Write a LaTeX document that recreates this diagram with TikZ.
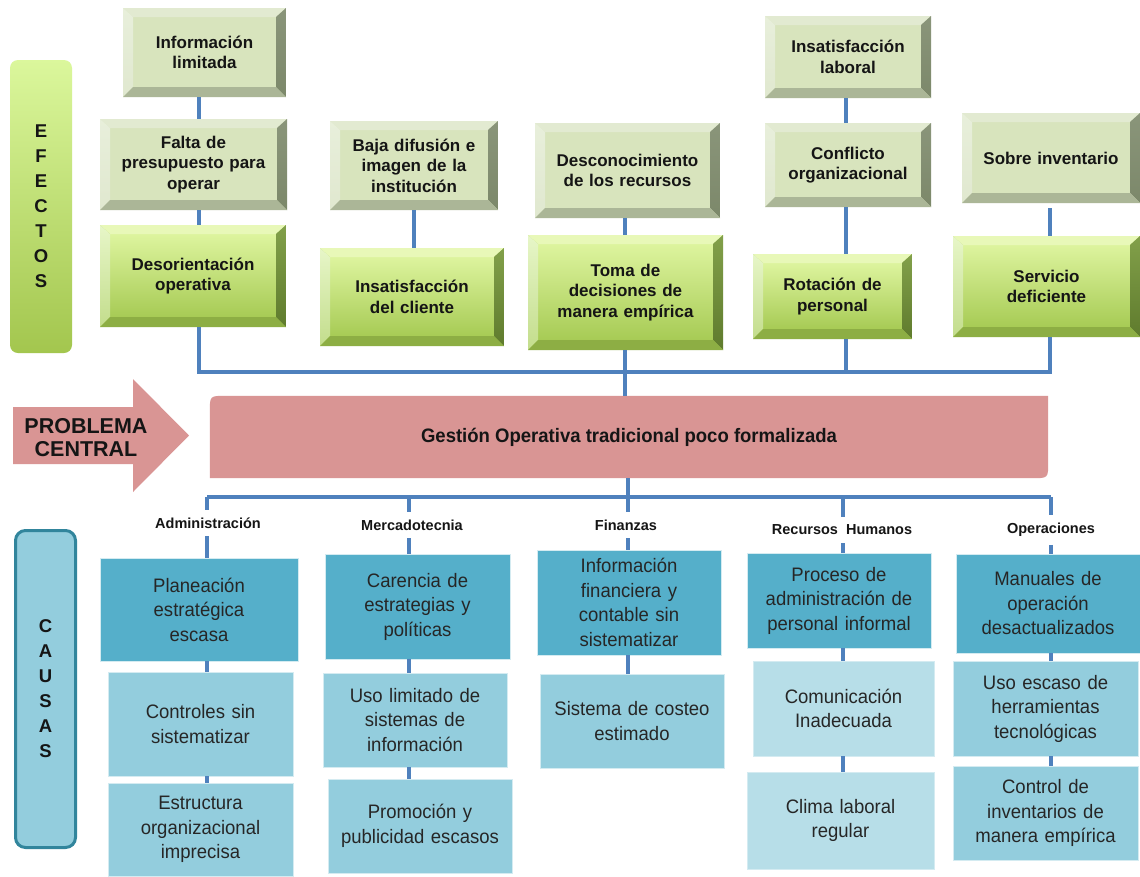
\documentclass[tikz,border=0pt]{standalone}
\usepackage{fontspec}
\setmainfont{Liberation Sans}
\newfontfamily\condfont[FakeStretch=0.95]{Liberation Sans}
\usetikzlibrary{backgrounds}

% palette
\definecolor{txt}{HTML}{151515}
\definecolor{ctxt}{HTML}{262626}
\definecolor{gface}{HTML}{D8E4BD}
\definecolor{gtop}{HTML}{E2EAD1}
\definecolor{gleftA}{HTML}{E8EFDB}
\definecolor{gleftB}{HTML}{E0E8CF}
\definecolor{grightA}{HTML}{8A957A}
\definecolor{grightB}{HTML}{7C886A}
\definecolor{gbot}{HTML}{ABB697}
\definecolor{lfaceA}{HTML}{DDF49E}
\definecolor{lfaceB}{HTML}{A7CB55}
\definecolor{ltop}{HTML}{E8F8B8}
\definecolor{lleftA}{HTML}{E7F6C8}
\definecolor{lleftB}{HTML}{C3DD8C}
\definecolor{lrightA}{HTML}{82A04A}
\definecolor{lrightB}{HTML}{5F7B2D}
\definecolor{lbot}{HTML}{8DAE44}
\definecolor{barA}{HTML}{DBF79C}
\definecolor{barB}{HTML}{A3C64E}
\definecolor{pinkc}{HTML}{D99594}
\definecolor{linec}{HTML}{4F81BD}
\definecolor{cDark}{HTML}{55AFCA}
\definecolor{cLight}{HTML}{93CDDD}
\definecolor{cPale}{HTML}{B7DEE8}
\definecolor{cBorder}{HTML}{31859C}

% bevelled face: face top/bottom, top strip, left strip top/bottom, right strip top/bottom, bottom strip
\newcommand\bevelfill[8]{%
  \path (path picture bounding box.north west) coordinate (bNW)
        (path picture bounding box.north east) coordinate (bNE)
        (path picture bounding box.south west) coordinate (bSW)
        (path picture bounding box.south east) coordinate (bSE);
  \path ([shift={(10pt,-9pt)}]bNW) coordinate (iNW)
        ([shift={(-10pt,-9pt)}]bNE) coordinate (iNE)
        ([shift={(10pt,10pt)}]bSW) coordinate (iSW)
        ([shift={(-10pt,10pt)}]bSE) coordinate (iSE);
  \shade[top color=#1,bottom color=#2] (iNW) rectangle (iSE);
  \fill[#3] (bNW) -- (bNE) -- (iNE) -- (iNW) -- cycle;
  \shade[top color=#4,bottom color=#5] (bNW) -- (iNW) -- (iSW) -- (bSW) -- cycle;
  \shade[top color=#6,bottom color=#7] (bNE) -- (bSE) -- (iSE) -- (iNE) -- cycle;
  \fill[#8] (bSW) -- (iSW) -- (iSE) -- (bSE) -- cycle;
}

% box placed by its corners: style, name, x1, y1, x2, y2, text
\newcommand\placebox[7]{%
  \pgfmathsetmacro\bxw{#5-#3}%
  \pgfmathsetmacro\bxh{#6-#4}%
  \pgfmathsetmacro\bxt{#5-#3-14}%
  \node[#1, minimum width=\bxw pt, minimum height=\bxh pt, text width=\bxt pt]
    (#2) at ({(#3+#5)/2},{(#4+#6)/2}) {#7};
}

\tikzset{
  effbase/.style={rectangle, inner sep=0pt, align=center, text=txt,
    font=\bfseries\fontsize{17}{20.5}\selectfont},
  graybox/.style={effbase, fill=gface,
    path picture={\bevelfill{gface}{gface}{gtop}{gleftA}{gleftB}{grightA}{grightB}{gbot}}},
  greenbox/.style={effbase, fill=lfaceB,
    path picture={\bevelfill{lfaceA}{lfaceB}{ltop}{lleftA}{lleftB}{lrightA}{lrightB}{lbot}}},
  causebase/.style={rectangle, inner sep=0pt, align=center, text=ctxt,
    font=\condfont\fontsize{19.5}{24.5}\selectfont, draw=white!60!cLight, line width=0.8pt},
  causedark/.style={causebase, fill=cDark},
  causelight/.style={causebase, fill=cLight},
  causepale/.style={causebase, fill=cPale},
  arealabel/.style={inner sep=0pt, outer ysep=8pt, text=txt,
    font=\bfseries\fontsize{14.5}{17}\selectfont},
  sideletters/.style={inner sep=0pt, align=center, text=txt,
    font=\bfseries\fontsize{18.5}{25}\selectfont},
  conn/.style={draw=linec, line width=3.5pt},
}

\begin{document}
\begin{tikzpicture}[x=1pt, y=-1pt]
\useasboundingbox (0,0) rectangle (1140,876);

% side bars
\node[sideletters, rounded corners=8pt, top color=barA, bottom color=barB,
      minimum width=62pt, minimum height=293pt] (efbar) at (41,206.5)
      {E\\F\\E\\C\\T\\O\\S};
\node[sideletters, rounded corners=10pt, fill=cLight, draw=cBorder, line width=3pt,
      minimum width=60pt, minimum height=317pt] (cabar) at (45.5,689)
      {C\\A\\U\\S\\A\\S};

% effects
\placebox{graybox}{info}{123}{8}{286}{97}{Información\\limitada}
\placebox{graybox}{falta}{100}{119}{287}{210}{Falta de\\presupuesto para\\operar}
\placebox{greenbox}{desor}{100}{225}{286}{327}{Desorientación\\operativa}
\placebox{graybox}{baja}{330}{121}{498}{210}{Baja difusión e\\imagen de la\\institución}
\placebox{greenbox}{insatc}{320}{248}{504}{346}{Insatisfacción\\del cliente}
\placebox{graybox}{desc}{535}{123}{720}{218}{Desconocimiento\\de los recursos}
\placebox{greenbox}{toma}{528}{235}{723}{350}{Toma de\\decisiones de\\manera empírica}
\placebox{graybox}{insatl}{765}{16}{931}{98}{Insatisfacción\\laboral}
\placebox{graybox}{confl}{765}{123}{931}{207}{Conflicto\\organizacional}
\placebox{greenbox}{rotac}{753}{254}{912}{339}{Rotación de\\personal}
\placebox{graybox}{sobre}{962}{113}{1140}{203}{Sobre inventario}
\placebox{greenbox}{serv}{953}{236}{1140}{337}{Servicio\\deficiente}

% central problem
\node[minimum width=838pt, minimum height=82pt, inner sep=0pt, text=txt,
      font=\condfont\bfseries\fontsize{19.5}{23}\selectfont] (prob) at (629,437)
      {Gestión Operativa tradicional poco formalizada};
\begin{scope}[on background layer]
  \fill[white] (0,0) rectangle (1140,876);
  \fill[pinkc] (prob.south west) -- ([yshift=-16pt]prob.north west)
     .. controls (prob.north west) .. ([xshift=16pt]prob.north west)
     -- (prob.north east) -- ([yshift=16pt]prob.south east)
     .. controls (prob.south east) .. ([xshift=-16pt]prob.south east) -- cycle;
  % arrow pointing at the central problem
  \fill[pinkc] (13,407) -- (133,407) -- (133,379) -- (189,435.5) -- (133,492)
     -- (133,464) -- (13,464) -- cycle;
\end{scope}
\node[align=center, inner sep=0pt, text=txt,
      font=\bfseries\fontsize{21.5}{23}\selectfont] (pc) at (86,438) {PROBLEMA\\CENTRAL};

% causes
\placebox{causedark}{plan}{100}{558}{298}{661}{Planeación\\estratégica\\escasa}
\placebox{causelight}{contr}{108}{672}{293}{776}{Controles sin\\sistematizar}
\placebox{causelight}{estr}{108}{783}{293}{876}{Estructura\\organizacional\\imprecisa}
\placebox{causedark}{caren}{325}{554}{510}{659}{Carencia de\\estrategias y\\políticas}
\placebox{causelight}{usolim}{323}{673}{507}{767}{Uso limitado de\\sistemas de\\información}
\placebox{causelight}{promo}{328}{779}{512}{873}{Promoción y\\publicidad escasos}
\placebox{causedark}{infofin}{537}{550}{721}{655}{Información\\financiera y\\contable sin\\sistematizar}
\placebox{causelight}{costeo}{540}{674}{724}{768}{Sistema de costeo\\estimado}
\placebox{causedark}{proceso}{747}{553}{931}{648}{Proceso de\\administración de\\personal informal}
\placebox{causepale}{comun}{753}{661}{934}{756}{Comunicación\\Inadecuada}
\placebox{causepale}{clima}{747}{772}{934}{869}{Clima laboral\\regular}
\placebox{causedark}{manual}{956}{554}{1140}{653}{Manuales de\\operación\\desactualizados}
\placebox{causelight}{usoesc}{953}{661}{1138}{756}{Uso escaso de\\herramientas\\tecnológicas}
\placebox{causelight}{control}{953}{766}{1138}{860}{Control de\\inventarios de\\manera empírica}

% area labels
\node[arealabel] (adm) at (208,523) {Administración};
\node[arealabel] (mer) at (412,525) {Mercadotecnia};
\node[arealabel] (fin) at (626,525) {Finanzas};
\node[arealabel] (rh)  at (842,530) {Recursos\ \ Humanos};
\node[arealabel] (ope) at (1051,530) {Operaciones};

% effect connectors
\coordinate (e1) at (199,372);
\coordinate (e2) at (414,372);
\coordinate (e3) at (625,372);
\coordinate (e4) at (846,372);
\coordinate (e5) at (1050,372);
\draw[conn] (e1 |- info.south) -- (e1 |- falta.north);
\draw[conn] (e1 |- falta.south) -- (e1 |- desor.north);
\draw[conn] (e2 |- baja.south) -- (e2 |- insatc.north);
\draw[conn] (e3 |- desc.south) -- (e3 |- toma.north);
\draw[conn] (e4 |- insatl.south) -- (e4 |- confl.north);
\draw[conn] (e4 |- confl.south) -- (e4 |- rotac.north);
\draw[conn, shorten <=5pt] (e5 |- sobre.south) -- (e5 |- serv.north);
\draw[conn] (e1 |- desor.south) -- (e1) -- (e5) -- (e5 |- serv.south);
\draw[conn] (e4 |- rotac.south) -- (e4);
\draw[conn] (e3 |- toma.south) -- (e3 |- prob.north);

% cause connectors
\coordinate (k1) at (207,497);
\coordinate (k2) at (409,497);
\coordinate (k3) at (628,497);
\coordinate (k4) at (843,497);
\coordinate (k5) at (1051,497);
\draw[conn] (k1) -- (k5);
\draw[conn] (k3 |- prob.south) -- (k3);
\foreach \k/\l/\a/\b/\c in {k1/adm/plan/contr/estr, k2/mer/caren/usolim/promo,
    k4/rh/proceso/comun/clima, k5/ope/manual/usoesc/control}{
  \draw[conn] (\k) -- (\k |- \l.north);
  \draw[conn] (\k |- \l.south) -- (\k |- \a.north);
  \draw[conn] (\k |- \a.south) -- (\k |- \b.north);
  \draw[conn] (\k |- \b.south) -- (\k |- \c.north);
}
\draw[conn] (k3) -- (k3 |- fin.north);
\draw[conn] (k3 |- fin.south) -- (k3 |- infofin.north);
\draw[conn] (k3 |- infofin.south) -- (k3 |- costeo.north);
\end{tikzpicture}
\end{document}
